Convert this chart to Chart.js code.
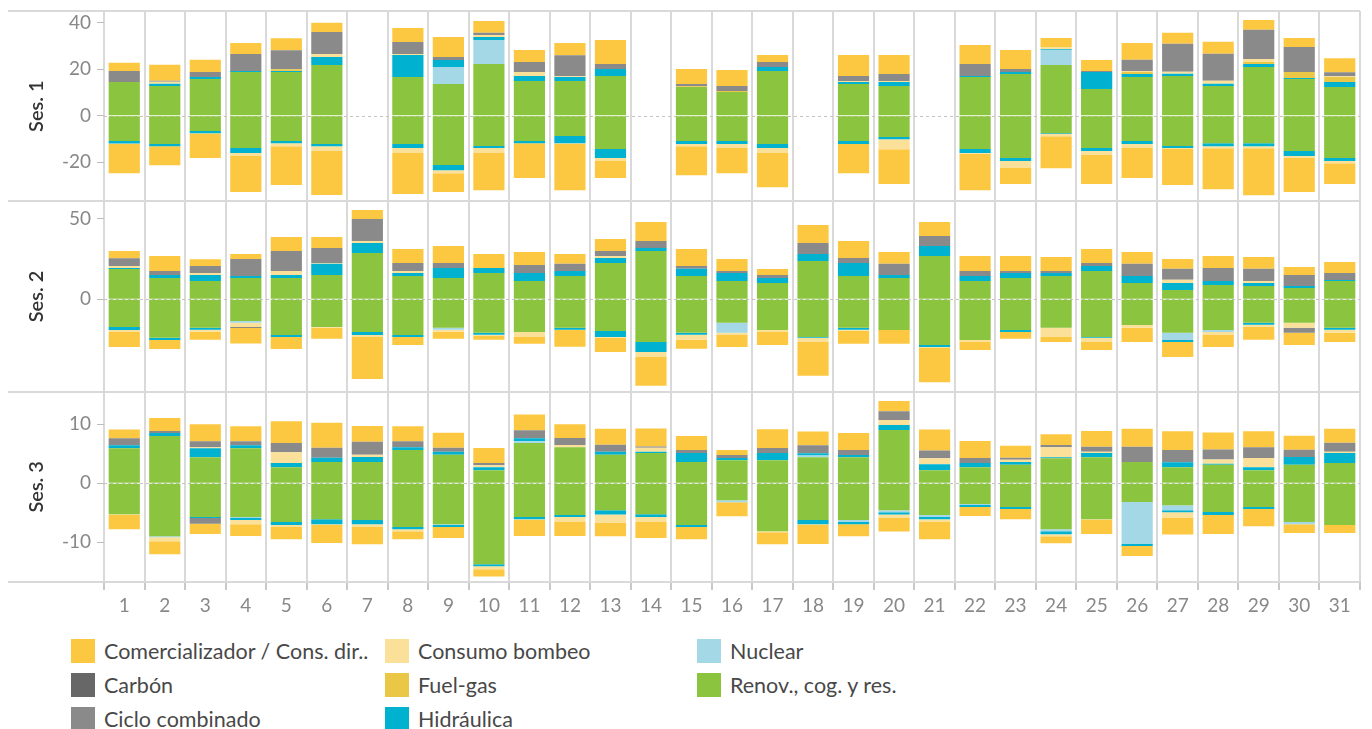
<!DOCTYPE html>
<html>
<head>
<meta charset="utf-8">
<script src="https://cdn.jsdelivr.net/npm/chart.js@4/dist/chart.umd.min.js"></script>
<style>
  body { margin: 0; background: #fff; font-family: Lato, "Open Sans", sans-serif; }
  #wrap { position: relative; width: 1372px; height: 729px; }
  #chartBox { position: absolute; left: 0; top: 0; width: 1372px; height: 628px; }
  .leg { position: absolute; height: 24px; display: flex; align-items: center; font-size: 21.5px; color: #484848; white-space: nowrap; }
  .leg span.sw { width: 24px; height: 24px; margin-right: 9px; display: inline-block; }
</style>
</head>
<body>
<div id="wrap">
  <div id="chartBox"><canvas id="chart" width="1372" height="628"></canvas></div>
  <div id="legend"></div>
</div>
<script>
const N = null;

// categories (day of month)
const days = ['1','2','3','4','5','6','7','8','9','10','11','12','13','14','15','16','17','18','19','20','21','22','23','24','25','26','27','28','29','30','31'];

// legend order; bars stack outward from zero in the reverse order
const seriesNames = ['Comercializador / Cons. dir..', 'Carbón', 'Ciclo combinado', 'Consumo bombeo', 'Fuel-gas', 'Hidráulica', 'Nuclear', 'Renov., cog. y res.'];
const seriesColors = ['#fcc842', '#676767', '#8a8a8a', '#fae098', '#ebc747', '#00b2d0', '#a5d8e6', '#8bc43f'];

const panelTitles = ['Ses. 1', 'Ses. 2', 'Ses. 3'];
const ses1Ticks = [40, 20, 0, -20];
const ses2Ticks = [50, 0];
const ses3Ticks = [10, 0, -10];

// ---- Ses. 1 ----
const ses1RenovUp   = [14.5,12.8,15.8,18.8,18.8,21.8,N,16.6,13.6,22.2,14.9,14.9,17.1,N,12.3,10.2,19.2,N,13.6,12.8,N,16.6,17.9,21.8,11.5,16.6,17.1,12.8,20.9,15.8,12.3];
const ses1NuclearUp = [0,0,0,0,0,0,N,0,7.3,10.3,0,0,0,N,0,0,0,N,0,0,N,0,0,6.4,0,0,0,0,0,0,0];
const ses1HidrUp    = [0,0.9,0.8,0.4,0.4,3.4,N,9.5,3.0,1.3,2.2,1.7,3.0,N,0,0,1.7,N,0.9,1.7,N,0.5,0.9,0.4,7.3,1.3,0.9,0.9,1.3,0.4,2.2];
const ses1FuelUp    = [0,0,0,0,0.8,0,N,0,0,0,0,0,0,N,0.4,0.4,0,N,0,0,N,0,0,0,0,0.9,0,0,0.9,2.6,2.1];
const ses1BombeoUp  = [0,0.9,0,0,0,1.3,N,0.4,0,0.9,1.7,0.4,0,N,0,0,0,N,0.4,0.4,N,0,0,0.9,0,0.4,0.9,1.3,1.3,0,0.4];
const ses1CicloUp   = [4.7,0.4,2.2,7.3,8.1,9.5,N,5.2,1.3,0.9,4.3,9.0,2.1,N,0.9,2.2,2.2,N,2.2,3.0,N,5.1,1.3,0,0.4,4.8,12.0,11.6,12.5,10.7,1.7];
const ses1ComercUp  = [3.6,6.9,5.2,4.8,5.2,3.9,N,6.0,8.6,5.1,5.1,5.2,10.3,N,6.5,6.8,3.0,N,9.0,8.2,N,8.2,8.1,3.9,4.7,7.3,4.8,5.2,4.2,3.9,6.0];
const ses1RenovDn   = [-10.9,-12.2,-6.6,-13.9,-10.9,-12.2,N,-12.2,-21.2,-13.0,-10.9,-8.7,-14.3,N,-10.9,-10.9,-12.2,N,-10.9,-9.2,N,-14.3,-18.2,-7.5,-13.9,-10.9,-13.0,-11.8,-11.8,-15.2,-18.2];
const ses1HidrDn    = [-1.0,-0.9,-0.9,-2.1,-0.9,-0.9,N,-1.7,-2.2,-0.9,-0.9,-3.1,-3.9,N,-1.3,-1.3,-1.7,N,-1.3,-0.9,N,-1.7,-1.3,-0.4,-1.3,-1.3,-0.9,-1.3,-1.3,-2.1,-1.3];
const ses1BombeoDn  = [-0.3,0,-0.2,-1.3,-1.3,-2.1,N,-2.1,-1.3,-2.1,0,-0.3,-1.3,N,-0.9,-1.7,-2.1,N,0,-4.3,N,-0.3,-3.0,-0.9,-1.7,-1.7,-0.4,-0.9,-0.9,-0.9,-0.9];
const ses1ComercDn  = [-12.5,-8.2,-10.5,-15.5,-16.7,-18.9,N,-17.7,-8.1,-16.0,-15.0,-19.9,-7.3,N,-12.5,-10.8,-14.7,N,-12.5,-15.0,N,-15.7,-6.9,-13.8,-12.5,-12.9,-15.5,-17.6,-20.2,-14.6,-9.0];

// ---- Ses. 2 ----
const ses2RenovUp   = [18.7,13.2,11.3,13.2,13.2,15.0,28.7,14.4,13.2,16.3,11.3,14.4,22.5,29.9,14.4,11.3,10.1,23.7,14.4,13.2,26.8,11.3,13.2,14.4,17.5,10.1,5.8,8.8,8.2,7.0,11.3];
const ses2HidrUp    = [0.6,1.8,3.7,1.2,1.8,6.9,6.1,1.8,6.2,3.1,5.0,3.1,3.0,1.8,4.4,5.0,3.1,4.3,8.1,1.8,6.2,3.1,3.1,1.8,3.1,4.3,4.3,2.5,1.9,1.2,0.6];
const ses2BombeoUp  = [1.2,0,1.2,0,2.5,0.6,1.2,1.3,0,0,0,0,1.3,0,0,0,0,0,0,0,0,0,0,0,0,0,1.9,0,1.2,0,0];
const ses2CicloUp   = [4.9,2.5,4.3,10.5,12.4,9.2,13.6,5.0,3.1,0,4.9,4.4,3.1,4.4,1.8,1.2,1.8,6.8,3.0,6.9,6.2,3.1,1.2,1.3,1.9,7.5,6.8,8.1,7.5,6.8,4.3];
const ses2ComercUp  = [4.4,9.3,4.3,3.1,8.7,6.9,5.6,8.6,10.5,8.6,8.1,6.1,7.4,11.7,10.5,7.4,3.7,11.2,10.6,7.4,8.6,9.3,9.3,8.7,8.6,7.4,6.1,7.4,7.4,5.0,6.8];
const ses2RenovDn   = [-17.1,-23.9,-17.7,-13.4,-22.1,-17.1,-20.2,-22.1,-17.7,-20.8,-20.2,-17.7,-19.6,-26.4,-20.8,-14.6,-19.0,-23.3,-17.7,-19.0,-28.3,-25.2,-19.0,-17.7,-23.3,-15.9,-20.8,-19.0,-14.6,-14.6,-17.7];
const ses2NuclearDn = [0,0,0,-1.2,0,0,0,0,-1.2,0,0,0,0,0,0,-6.2,0,0,0,0,0,0,0,0,0,0,-4.4,-1.2,0,0,0];
const ses2HidrDn    = [-1.9,-1.3,-1.2,0,-1.2,0,-1.9,-1.2,0,-1.2,0,-1.2,-3.7,-6.2,-1.2,0,0,-0.6,-1.2,0,-1.2,0,-1.2,0,-0.6,0,-1.2,0,-1.2,0,-1.2];
const ses2BombeoDn  = [-1.2,0,-1.2,-2.5,0,-0.6,-1.2,0,-1.2,-0.5,-3.1,0,-0.6,-3.1,-3.1,-1.3,-1.2,-2.5,-0.6,0,-0.6,-1.2,0,-5.6,-2.5,-1.8,0,-1.9,-1.2,-3.1,-1.9];
const ses2CicloDn   = [0,0,0,0,0,0,0,0,0,0,0,0,0,0,0,0,0,0,0,0,0,0,0,0,0,0,0,0,0,-3.1,0];
const ses2CarbonDn  = [0,0,0,-0.6,0,0,0,0,0,0,0,0,0,0,0,0,0,0,0,0,0,0,0,0,0,0,0,0,0,0,0];
const ses2ComercDn  = [-9.3,-5.6,-5.0,-9.7,-7.5,-6.8,-26.0,-5.0,-4.3,-2.6,-4.3,-10.5,-8.7,-17.9,-5.6,-7.4,-8.1,-21.0,-8.0,-8.6,-21.2,-5.0,-4.3,-3.1,-5.0,-8.7,-9.3,-7.4,-8.1,-7.5,-5.6];

// ---- Ses. 3 ----
const ses3RenovUp   = [5.9,8.0,4.4,5.9,2.7,3.6,3.6,5.6,4.8,2.2,6.8,6.1,4.8,5.1,3.6,3.9,3.9,4.4,4.4,9.0,2.2,2.7,3.1,4.2,4.4,3.6,2.7,3.1,2.2,3.1,3.4];
const ses3NuclearUp = [0,0,0,0,0,0,0,0,0,0,0.3,0,0,0,0,0,0,0.3,0,0,0,0,0,0,0,0,0,0,0,0,0];
const ses3HidrUp    = [0.5,0.5,1.5,0.5,0.7,0.7,0.85,0.5,0.5,0.5,0.5,0,0.5,0.2,1.5,0.35,1.2,0.35,0.35,0.85,1.0,0.7,0.5,0.2,0.7,0,0.85,0.2,0.5,1.35,1.7];
const ses3BombeoUp  = [0,0,0.2,0,1.85,0,0.35,0,0,0.35,0,0.35,0,0.7,0,0,0,0,0,0.85,1.0,0,0.35,1.7,0.2,0,0,0.7,1.55,0,0.2];
const ses3CicloUp   = [1.2,0.35,1.0,0.7,1.55,1.7,2.2,1.0,0.7,0.35,1.35,1.2,1.2,0.2,0.5,0.5,0.85,1.35,0.85,1.5,1.35,0.85,0.35,0.35,0.85,2.55,2.05,1.7,1.85,1.2,1.55];
const ses3ComercUp  = [1.5,2.2,2.9,2.55,3.7,4.25,2.7,2.55,2.55,2.55,2.7,2.35,2.7,3.05,2.4,0.85,3.2,2.35,2.9,1.7,3.55,2.9,2.05,1.85,2.7,3.05,3.2,2.9,2.7,2.4,2.35];
const ses3RenovDn   = [-5.25,-9.0,-5.75,-5.75,-6.6,-6.1,-6.25,-7.45,-6.95,-13.75,-5.75,-5.4,-4.6,-5.25,-7.1,-2.9,-8.15,-6.25,-6.25,-4.6,-5.4,-3.55,-4.05,-7.8,-6.1,-3.2,-3.75,-4.9,-4.05,-6.6,-7.1];
const ses3NuclearDn = [0,-0.15,0,-0.15,0,0,0,0,-0.15,0,0,0,0,0,0,-0.35,0,0,-0.35,-0.35,-0.35,-0.15,0,-0.35,0,-7.1,-0.85,0,0,-0.35,0];
const ses3HidrDn    = [0,0,-0.15,-0.35,-0.5,-0.85,-0.7,-0.35,-0.35,-0.35,-0.35,-0.35,-0.7,-0.5,-0.35,0,0,-0.7,-0.35,-0.35,-0.35,-0.35,-0.35,-0.5,0,-0.35,-0.35,-0.5,-0.35,0,0];
const ses3BombeoDn  = [-0.15,-0.7,0,-0.7,-0.35,-0.15,-0.5,-0.35,0,-0.5,-0.15,-0.85,-1.35,-0.85,0,0,-0.15,-0.15,0,-0.5,-0.5,0,0,-0.35,-0.15,0,-0.85,0,0,0,0];
const ses3CicloDn   = [0,0,-1.0,0,0,0,0,0,0,0,0,0,0,0,0,0,0,0,0,0,0,0,0,0,0,0,0,0,0,0,0];
const ses3ComercDn  = [-2.4,-2.2,-1.7,-2.0,-2.05,-3.05,-2.9,-1.35,-1.85,-1.2,-2.7,-2.35,-2.35,-2.7,-2.05,-2.35,-2.05,-3.2,-2.05,-2.4,-2.9,-1.5,-1.7,-1.2,-2.35,-1.7,-2.9,-3.2,-2.9,-1.5,-1.35];

// arrays per panel in legend order (null = nothing to draw)
const ses1Up = [ses1ComercUp, N, ses1CicloUp, ses1BombeoUp, ses1FuelUp, ses1HidrUp, ses1NuclearUp, ses1RenovUp];
const ses1Dn = [ses1ComercDn, N, N, ses1BombeoDn, N, ses1HidrDn, N, ses1RenovDn];
const ses2Up = [ses2ComercUp, N, ses2CicloUp, ses2BombeoUp, N, ses2HidrUp, N, ses2RenovUp];
const ses2Dn = [ses2ComercDn, ses2CarbonDn, ses2CicloDn, ses2BombeoDn, N, ses2HidrDn, ses2NuclearDn, ses2RenovDn];
const ses3Up = [ses3ComercUp, N, ses3CicloUp, ses3BombeoUp, N, ses3HidrUp, ses3NuclearUp, ses3RenovUp];
const ses3Dn = [ses3ComercDn, N, ses3CicloDn, ses3BombeoDn, N, ses3HidrDn, ses3NuclearDn, ses3RenovDn];

const panels = [
  { id: 'y1', up: ses1Up, dn: ses1Dn, ticks: ses1Ticks, min: -36.8, max: 45.0 },
  { id: 'y2', up: ses2Up, dn: ses2Dn, ticks: ses2Ticks, min: -57.2, max: 60.6 },
  { id: 'y3', up: ses3Up, dn: ses3Dn, ticks: ses3Ticks, min: -16.75, max: 15.5 }
];

const tickFont = { family: 'Lato', size: 19 };
const gridGray = '#d9d9d9';

// build datasets, stacking from zero outward
const datasets = [];
panels.forEach(function (p) {
  for (let i = seriesNames.length - 1; i >= 0; i--) {
    [p.up[i], p.dn[i]].forEach(function (arr) {
      if (!arr) return;
      datasets.push({
        label: seriesNames[i],
        data: arr,
        backgroundColor: seriesColors[i],
        borderWidth: 0,
        yAxisID: p.id
      });
    });
  }
});

// y scales, one per session, stacked on the left
const scales = {
  x: {
    stacked: true,
    offset: true,
    grid: { offset: true, color: gridGray, lineWidth: 2, tickLength: 8, tickColor: '#c8c8c8' },
    border: { display: false },
    ticks: { font: tickFont, color: '#888', padding: 4, maxRotation: 0, autoSkip: false },
    afterFit: function (scale) {
      scale.height = 46;
      scale.paddingLeft = 0;
      scale.paddingRight = 0;
    }
  }
};
panels.forEach(function (p, k) {
  scales[p.id] = {
    type: 'linear',
    position: 'left',
    stack: 'sessions',
    stackWeight: 1,
    weight: 3 - k,
    stacked: true,
    min: p.min,
    max: p.max,
    grid: { drawOnChartArea: false, tickLength: 7, color: '#bdbdbd' },
    border: { display: false },
    ticks: { font: tickFont, color: '#888', padding: 6 },
    afterBuildTicks: function (scale) { scale.ticks = p.ticks.map(v => ({ value: v })); },
    afterFit: function (scale) {
      scale.width = 104;
      scale.paddingTop = 0;
      scale.paddingBottom = 0;
    },
    title: {
      display: true,
      text: panelTitles[k],
      color: '#333',
      font: { family: 'Lato', size: 20, weight: '600' },
      padding: { top: 25, bottom: 0 }
    }
  };
});

// dashed zero lines and the row dividers
const panelLines = {
  id: 'panelLines',
  beforeDatasetsDraw(chart) {
    const ctx = chart.ctx, area = chart.chartArea;
    ctx.save();
    ctx.strokeStyle = '#c4c4c4';
    ctx.lineWidth = 1;
    ctx.setLineDash([3, 3]);
    panels.forEach(function (p) {
      const y = Math.round(chart.scales[p.id].getPixelForValue(0)) + 0.5;
      ctx.beginPath();
      ctx.moveTo(area.left, y);
      ctx.lineTo(area.right, y);
      ctx.stroke();
    });
    ctx.restore();
  },
  afterDraw(chart) {
    const ctx = chart.ctx, area = chart.chartArea;
    const rows = panels.map(p => chart.scales[p.id].top);
    rows.push(area.bottom);
    ctx.save();
    ctx.strokeStyle = gridGray;
    ctx.lineWidth = 2;
    rows.forEach(function (y) {
      ctx.beginPath();
      ctx.moveTo(8, Math.round(y));
      ctx.lineTo(area.right, Math.round(y));
      ctx.stroke();
    });
    ctx.restore();
  }
};

new Chart(document.getElementById('chart'), {
  type: 'bar',
  data: { labels: days, datasets: datasets },
  options: {
    responsive: false,
    devicePixelRatio: 1,
    animation: false,
    categoryPercentage: 0.77,
    barPercentage: 1,
    layout: { padding: { left: 0, right: 12, top: 11, bottom: 0 } },
    plugins: { legend: { display: false }, tooltip: { enabled: false } },
    scales: scales
  },
  plugins: [panelLines]
});

// legend: three columns, filled top to bottom
const legendCols = [71, 385, 697];
const legendRows = [639, 673, 707];
const legend = document.getElementById('legend');
seriesNames.forEach(function (name, i) {
  const item = document.createElement('div');
  item.className = 'leg';
  item.style.left = legendCols[Math.floor(i / 3)] + 'px';
  item.style.top = legendRows[i % 3] + 'px';
  item.innerHTML = '<span class="sw" style="background:' + seriesColors[i] + '"></span>' + name;
  legend.appendChild(item);
});
</script>
</body>
</html>
